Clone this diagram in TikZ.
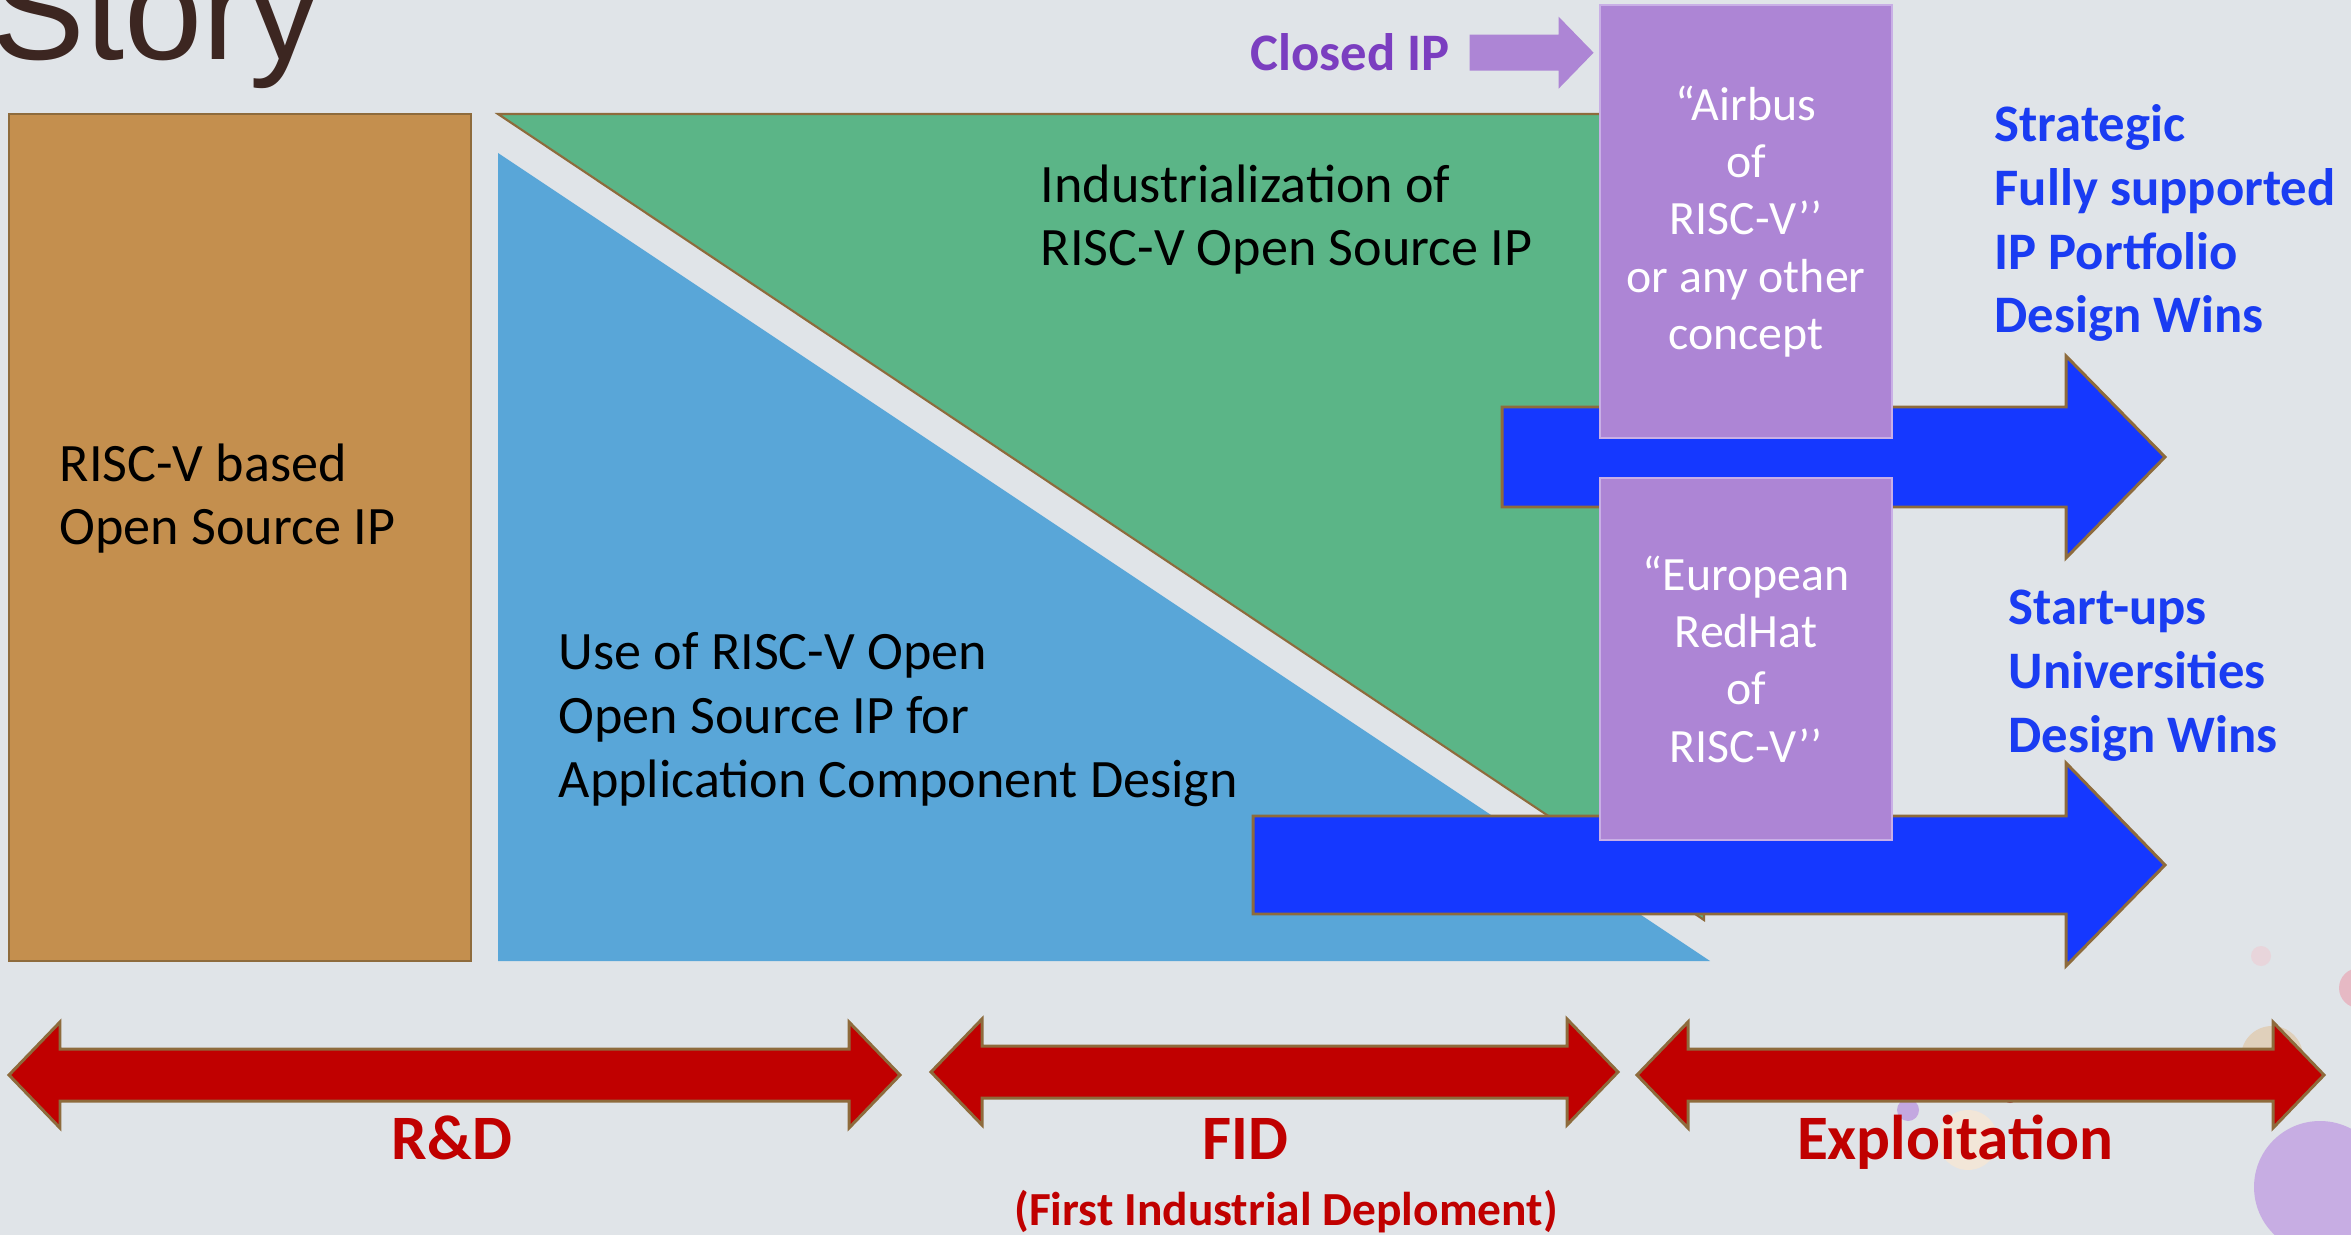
\documentclass[tikz,border=0pt]{standalone}
\usepackage{fontspec}
\setmainfont{Carlito}
\newfontfamily\arialfont{Liberation Sans}
\usetikzlibrary{positioning,calc}

\definecolor{slidebg}{HTML}{E0E4E8}
\definecolor{tan}{HTML}{C48F4E}
\definecolor{edgebrown}{HTML}{8E6B3C}
\definecolor{leafgreen}{HTML}{5BB587}
\definecolor{skyblue}{HTML}{59A6D8}
\definecolor{vividblue}{HTML}{1538FF}
\definecolor{lilac}{HTML}{AD85D5}
\definecolor{lilacedge}{HTML}{C9AFE6}
\definecolor{closedpurple}{HTML}{7B3EC0}
\definecolor{winblue}{HTML}{1A3CF2}
\definecolor{darkred}{HTML}{C00000}
\definecolor{storybrown}{HTML}{3C2621}

\tikzset{
  shapebox/.style={draw=edgebrown,line width=0.6pt},
  arrowedge/.style={draw=edgebrown,line width=0.85pt},
  bodytext/.style={inner sep=0,align=left,font=\fontsize{15.4}{18.2}\selectfont},
  wintext/.style={inner sep=0,align=left,text=winblue,font=\bfseries\fontsize{15}{18.2}\selectfont},
  phasetext/.style={inner sep=0,text=darkred,font=\bfseries\fontsize{18}{21}\selectfont},
  purplebox/.style={draw=lilacedge,line width=0.8pt,fill=lilac,text=white,align=center,
    minimum width=29.2mm,inner sep=0,font=\fontsize{13.6}{16.3}\selectfont}
}

\begin{document}
\begin{tikzpicture}[x=0.1mm,y=-0.1mm]

\useasboundingbox (0,0) rectangle (2351,1235);
\fill[slidebg] (0,0) rectangle (2351,1235);

% slide decoration
\fill[fill={rgb,255:red,232;green,213;blue,219}] (2261,956) circle (10);
\fill[fill={rgb,255:red,230;green,185;blue,196}] (2359,988) circle (20);
\fill[fill={rgb,255:red,224;green,208;blue,187}] (2272,1057) circle (31);
\fill[fill={rgb,255:red,242;green,230;blue,216}] (1968,1140) circle (30);
\fill[fill={rgb,255:red,195;green,168;blue,224}] (1908,1110) circle (11);
\fill[fill={rgb,255:red,181;green,71;blue,95}] (2010,1097) circle (6);
\fill[fill={rgb,255:red,199;green,173;blue,227}] (2320,1187) circle (66);

\node[anchor=base west,inner sep=0,text=storybrown,font=\arialfont\fontsize{40}{46}\selectfont] (story) at (-9,60) {Story};

% open source IP
\draw[shapebox,fill=tan] (9,114) rectangle (471,961);
\node[bodytext,anchor=base west] (rvbased) at (59,545) {RISC-V based\\Open Source IP};

% the two wedges
\draw[shapebox,fill=leafgreen] (498,114) -- (1704,114) -- (1704,920) -- cycle;
\fill[skyblue] (498,153) -- (1710,961) -- (498,961) -- cycle;
\node[bodytext,anchor=base west] (indus) at (1040,266) {Industrialization of\\RISC-V Open Source IP};
\node[bodytext,anchor=base west] (usage) at (558,797) {Use of RISC-V Open\\Open Source IP for\\Application Component Design};

% outcome arrows
\draw[arrowedge,fill=vividblue] (1502,407) -- (2066,407) -- (2066,356) -- (2165,457) -- (2066,558) -- (2066,507) -- (1502,507) -- cycle;
\draw[arrowedge,fill=vividblue] (1253,816) -- (2066,816) -- (2066,763) -- (2165,865) -- (2066,966) -- (2066,914) -- (1253,914) -- cycle;

\node[purplebox,minimum height=43.3mm] (airbus) at (1746,221.5) {“Airbus\\of\\RISC-V’’\\or any other\\concept};
\node[purplebox,minimum height=36.2mm] (redhat) at (1746,659) {“European\\RedHat\\of\\RISC-V’’};

\node[anchor=base west,inner sep=0,text=closedpurple,font=\bfseries\fontsize{15}{18}\selectfont] (closed) at (1250,71) {Closed IP};
\coordinate (ciptip) at ($(airbus.west |- closed.east)+(-5,0)$);
\fill[lilac] ($(closed.east)+(19,-18)$) -| ($(ciptip)+(-35,-36)$) -- (ciptip) -- ($(ciptip)+(-35,36)$) |- ($(closed.east)+(19,18)$) -- cycle;

\node[wintext,anchor=base west] (strategic) at (1994,333) {Strategic\\Fully supported\\IP Portfolio\\Design Wins};
\node[wintext,anchor=base west] (startups) at (2008,752) {Start-ups\\Universities\\Design Wins};

% phases
\foreach \l/\lb/\rb/\r/\y in {9/60/849/900/1075, 931/982/1567/1618/1072, 1637/1688/2273/2324/1075}
  \draw[arrowedge,fill=darkred] (\l,\y) -- (\lb,\y-53) -- (\lb,\y-26) -- (\rb,\y-26) -- (\rb,\y-53) -- (\r,\y)
    -- (\rb,\y+53) -- (\rb,\y+26) -- (\lb,\y+26) -- (\lb,\y+53) -- cycle;

\node[phasetext,anchor=base] (rnd) at (452,1159) {R\&D};
\node[phasetext,anchor=base] (fid) at (1245,1159) {FID};
\node[phasetext,anchor=base] (exploit) at (1955,1159) {Exploitation};
\node[anchor=base,inner sep=0,text=darkred,font=\bfseries\fontsize{13.5}{16}\selectfont] (fidlong) at (1286,1225) {(First Industrial Deploment)};

\end{tikzpicture}
\end{document}
